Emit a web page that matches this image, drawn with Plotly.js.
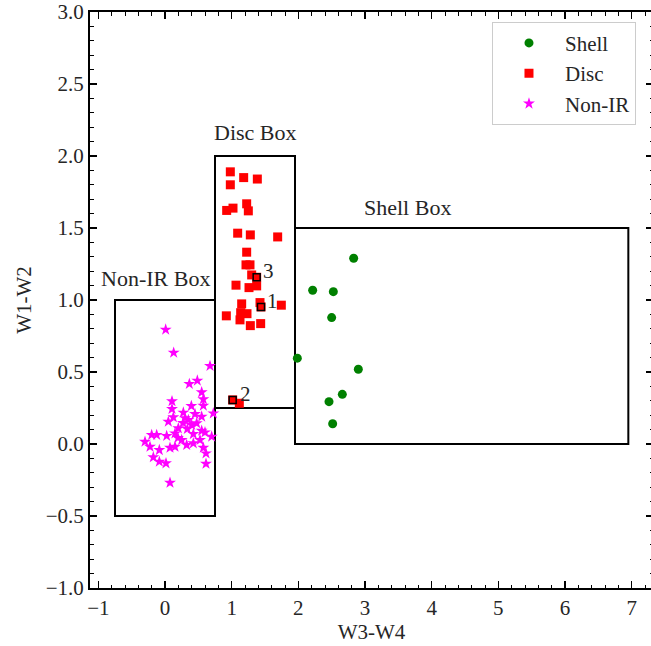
<!DOCTYPE html>
<html>
<head>
<meta charset="utf-8">
<script src="https://cdn.plot.ly/plotly-3.0.1.min.js"></script>
<style>
html,body{margin:0;padding:0;overflow:hidden;background:#fff;}
#chart{width:656px;height:646px;}
</style>
</head>
<body>
<div id="chart"></div>
<script>
// Shell sources (W3-W4, W1-W2)
const shellX = [2.83, 2.215, 2.525, 2.50, 1.985, 2.90, 2.66, 2.46, 2.515];
const shellY = [1.29, 1.068, 1.058, 0.878, 0.596, 0.519, 0.345, 0.294, 0.141];

// Disc sources
const discX = [0.98, 1.18, 1.385, 0.98, 0.925, 1.02, 1.225, 1.25, 1.09, 1.28, 1.69, 1.225, 1.215, 1.275, 1.30,
               1.065, 1.26, 1.375, 1.15, 1.425, 1.745, 0.92, 1.135, 1.23, 1.125, 1.28, 1.435, 1.115, 1.375, 1.44, 1.015];
const discY = [1.89, 1.85, 1.84, 1.80, 1.622, 1.638, 1.668, 1.619, 1.464, 1.452, 1.438, 1.332, 1.244, 1.244, 1.174,
               1.103, 1.086, 1.098, 0.973, 0.982, 0.964, 0.89, 0.912, 0.905, 0.862, 0.822, 0.836, 0.283, 1.158, 0.952, 0.306];

// Non-IR sources
const nonX = [0.01, 0.13, 0.675, 0.365, 0.485, 0.55, 0.575, 0.105, 0.575, 0.395, 0.105, 0.725, 0.275, 0.55, 0.125,
              0.05, 0.35, 0.475, 0.40, 0.20, 0.335, 0.55, -0.20, -0.125, 0.025, 0.15, 0.425, 0.60, 0.70, -0.30,
              0.25, 0.325, 0.425, -0.225, 0.075, 0.15, 0.575, -0.085, 0.615, -0.175, -0.085, 0.015, 0.615, 0.075,
              0.27, 0.45, 0.195, 0.525, 0.30];
const nonY = [0.794, 0.634, 0.542, 0.417, 0.44, 0.359, 0.311, 0.297, 0.266, 0.264, 0.243, 0.213, 0.218, 0.19, 0.186,
              0.155, 0.167, 0.144, 0.132, 0.109, 0.104, 0.092, 0.063, 0.063, 0.056, 0.074, 0.069, 0.081, 0.051, 0.016,
              0.028, -0.007, 0.005, -0.019, -0.026, -0.019, -0.026, -0.042, -0.065, -0.092, -0.123, -0.134, -0.137, -0.269,
              0.146, 0.208, 0.042, 0.028, 0.18];

// Highlighted (numbered) sources
const markLabels = ["1", "2", "3"];
const markX = [1.44, 1.015, 1.375];
const markY = [0.952, 0.306, 1.158];
const markLabelX = [1.605, 1.20, 1.545];
const markLabelY = [0.994, 0.347, 1.202];

// Selection boxes [x0, x1, y0, y1]
const boxNames = ["Non-IR Box", "Disc Box", "Shell Box"];
const boxX0 = [-0.75, 0.75, 1.95];
const boxX1 = [0.75, 1.95, 6.95];
const boxY0 = [-0.5, 0.25, 0.0];
const boxY1 = [1.0, 2.0, 1.5];
const boxLabelX = [-0.15, 1.35, 3.63];
const boxLabelY = [1.147, 2.16, 1.64];

const FONT = "Liberation Serif";
const TXT = "#262626";

const traces = [
  {x: shellX, y: shellY, mode: "markers", type: "scatter", name: "Shell",
   marker: {symbol: "circle", color: "green", size: 9}},
  {x: discX, y: discY, mode: "markers", type: "scatter", name: "Disc",
   marker: {symbol: "square", color: "red", size: 9}},
  {x: nonX, y: nonY, mode: "markers", type: "scatter", name: "Non-IR",
   marker: {symbol: "star", color: "magenta", size: 9}},
  {x: markX, y: markY, mode: "markers", type: "scatter", showlegend: false,
   marker: {symbol: "square", color: "red", size: 7, line: {color: "black", width: 1.5}}}
];

const shapes = boxNames.map((n, i) => ({
  type: "rect", xref: "x", yref: "y",
  x0: boxX0[i], x1: boxX1[i], y0: boxY0[i], y1: boxY1[i],
  line: {color: "black", width: 2}, fillcolor: "rgba(0,0,0,0)", layer: "below"
}));

const annotations = boxNames.map((n, i) => ({
  x: boxLabelX[i], y: boxLabelY[i], xref: "x", yref: "y", text: n, showarrow: false,
  font: {family: FONT, size: 22, color: TXT}
})).concat(markLabels.map((t, i) => ({
  x: markLabelX[i], y: markLabelY[i], xref: "x", yref: "y", text: t, showarrow: false,
  font: {family: FONT, size: 21, color: TXT}
})));

const axisCommon = {
  ticks: "inside", ticklen: 7, tickwidth: 1.5, tickcolor: "black",
  showline: true, linecolor: "black", linewidth: 2, mirror: "ticks",
  showgrid: false, zeroline: false,
  tickfont: {family: FONT, size: 21, color: TXT}
};

const layout = {
  width: 656, height: 646,
  margin: {l: 90, r: 3, t: 12, b: 58},
  paper_bgcolor: "white", plot_bgcolor: "white",
  font: {family: FONT, size: 21, color: TXT},
  xaxis: Object.assign({}, axisCommon, {
    range: [-1.125, 7.32], tick0: 0, dtick: 1,
    minor: {dtick: 0.2, ticks: "inside", ticklen: 3.5, tickwidth: 1, tickcolor: "black"},
    title: {text: "W3-W4", font: {family: FONT, size: 21, color: TXT}, standoff: 4}
  }),
  yaxis: Object.assign({}, axisCommon, {
    range: [-1, 3], tick0: 0, dtick: 0.5, tickformat: ".1f",
    minor: {dtick: 0.1, ticks: "inside", ticklen: 3.5, tickwidth: 1, tickcolor: "black"},
    title: {text: "W1-W2", font: {family: FONT, size: 21, color: TXT}, standoff: 8}
  }),
  legend: {x: 0.714, y: 0.983, xanchor: "left", yanchor: "top",
    bgcolor: "rgba(255,255,255,0.8)", bordercolor: "#cccccc", borderwidth: 1,
    font: {family: FONT, size: 21, color: TXT}, itemwidth: 62},
  shapes: shapes,
  annotations: annotations,
  showlegend: true
};

Plotly.newPlot("chart", traces, layout, {displayModeBar: false, staticPlot: true});
</script>
</body>
</html>
